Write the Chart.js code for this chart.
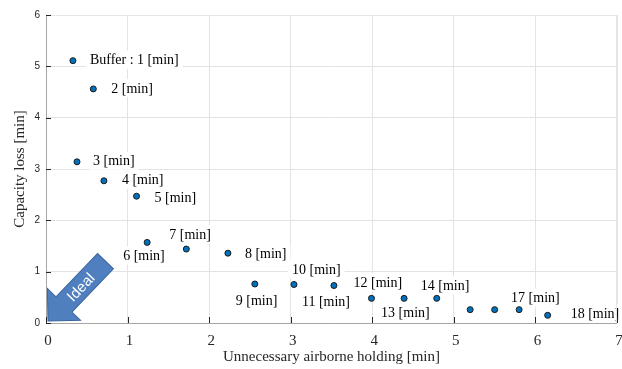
<!DOCTYPE html>
<html>
<head>
<meta charset="utf-8">
<script src="https://cdn.jsdelivr.net/npm/chart.js@4.4.1/dist/chart.umd.min.js"></script>
<style>
  html, body { margin: 0; padding: 0; background: #fff; }
  #wrap { width: 622px; height: 369px; position: relative; }
</style>
</head>
<body>
<div id="wrap"><canvas id="chart"></canvas></div>
<script>
// buffer values 1..18 min
const holdingMin = [0.33, 0.58, 0.38, 0.71, 1.11, 1.24, 1.72, 2.23, 2.56, 3.04, 3.53, 3.99, 4.39, 4.79, 5.20, 5.50, 5.80, 6.15];
const capacityLossMin = [5.11, 4.56, 3.14, 2.77, 2.47, 1.57, 1.44, 1.36, 0.76, 0.75, 0.73, 0.48, 0.48, 0.48, 0.26, 0.26, 0.26, 0.15];
const labelTexts = [
  "Buffer : 1 [min]", "2 [min]", "3 [min]", "4 [min]", "5 [min]", "6 [min]",
  "7 [min]", "8 [min]", "9 [min]", "10 [min]", "11 [min]", "12 [min]",
  "13 [min]", "14 [min]", "", "", "17 [min]", "18 [min]",
];
const xTicks = [0, 1, 2, 3, 4, 5, 6, 7];
const yTicks = [0, 1, 2, 3, 4, 5, 6];

// label placement relative to its point, px (left edge, vertical centre)
const labelOffsets = [
  [17, -1], [18, -1], [16, -1], [18, -1], [18, 1], [-24, 13],
  [-17, -15], [17, 0], [-19, 16], [-2, -15], [-32, 16], [-18, -16],
  [-23, 14], [-16, -13], [0, 0], [0, 0], [-8, -12], [23, -2],
];

const SERIF = "'Liberation Serif', 'Times New Roman', serif";
const SANS = "'Liberation Sans', Arial, sans-serif";

const pointLabels = {
  id: "pointLabels",
  beforeDatasetsDraw(chart) {
    const { ctx } = chart;
    const meta = chart.getDatasetMeta(0);
    ctx.save();
    ctx.font = `14px ${SERIF}`;
    ctx.textBaseline = "middle";
    meta.data.forEach((pt, i) => {
      const text = labelTexts[i];
      if (!text) return;
      const [dx, dy] = labelOffsets[i];
      const x = pt.x + dx;
      const y = pt.y + dy;
      const w = ctx.measureText(text).width;
      ctx.fillStyle = "#fff";
      ctx.fillRect(x - 4, y - 9, w + 8, 18);
      ctx.fillStyle = "#000";
      ctx.fillText(text, x, y + 1);
    });
    ctx.restore();
  },
};

const axesBox = {
  id: "axesBox",
  afterDraw(chart) {
    const { ctx, chartArea: a } = chart;
    const xs = chart.scales.x;
    const ys = chart.scales.y;
    ctx.save();
    ctx.lineWidth = 1;
    // top / right
    ctx.strokeStyle = "#e6e6e6";
    ctx.beginPath();
    ctx.moveTo(a.left, a.top + 0.5);
    ctx.lineTo(a.right - 0.5, a.top + 0.5);
    ctx.lineTo(a.right - 0.5, a.bottom);
    ctx.stroke();
    // left / bottom axis
    ctx.strokeStyle = "#a6a6a6";
    ctx.beginPath();
    ctx.moveTo(a.left + 0.5, a.top);
    ctx.lineTo(a.left + 0.5, a.bottom + 0.5);
    ctx.lineTo(a.right, a.bottom + 0.5);
    ctx.stroke();
    // inward ticks
    ctx.strokeStyle = "#262626";
    ctx.beginPath();
    xTicks.forEach((v) => {
      const px = Math.round(xs.getPixelForValue(v)) + 0.5;
      ctx.moveTo(px, a.bottom);
      ctx.lineTo(px, a.bottom - 6);
    });
    yTicks.forEach((v) => {
      const py = Math.round(ys.getPixelForValue(v)) + 0.5;
      ctx.moveTo(a.left, py);
      ctx.lineTo(a.left + 5, py);
    });
    ctx.stroke();
    ctx.restore();
  },
};

const idealArrow = {
  id: "idealArrow",
  afterDatasetsDraw(chart) {
    const { ctx } = chart;
    const tipX = chart.scales.x.getPixelForValue(0) + 2;
    const tipY = chart.scales.y.getPixelForValue(0) - 2;
    ctx.save();
    ctx.translate(tipX, tipY);
    ctx.rotate(-Math.PI / 4 - 0.02);
    // head at local origin, shaft along +x (up-right on screen)
    const len = 83, head = 23, shaftHalf = 11, headHalf = 23;
    ctx.beginPath();
    ctx.moveTo(0, 0);
    ctx.lineTo(head, -headHalf);
    ctx.lineTo(head, -shaftHalf);
    ctx.lineTo(len, -shaftHalf);
    ctx.lineTo(len, shaftHalf);
    ctx.lineTo(head, shaftHalf);
    ctx.lineTo(head, headHalf);
    ctx.closePath();
    ctx.fillStyle = "#4f7fbf";
    ctx.fill();
    ctx.strokeStyle = "#3a659c";
    ctx.lineWidth = 1;
    ctx.stroke();
    ctx.fillStyle = "#fff";
    ctx.font = `15px ${SANS}`;
    ctx.textAlign = "center";
    ctx.textBaseline = "middle";
    ctx.fillText("Ideal", 47, 1);
    ctx.restore();
  },
};

const points = holdingMin.map((x, i) => ({ x, y: capacityLossMin[i] }));

new Chart(document.querySelector("#chart"), {
  type: "scatter",
  data: {
    datasets: [
      {
        data: points,
        pointRadius: 3,
        pointBackgroundColor: "#0072bd",
        pointBorderColor: "#1a1a1a",
        pointBorderWidth: 1,
      },
    ],
  },
  options: {
    responsive: true,
    maintainAspectRatio: false,
    animation: false,
    layout: { padding: { left: 0, right: 2, top: 15, bottom: 0 } },
    plugins: {
      legend: { display: false },
      tooltip: { enabled: false },
    },
    scales: {
      x: {
        type: "linear",
        min: 0,
        max: 7,
        afterBuildTicks: (scale) => {
          scale.ticks = xTicks.map((value) => ({ value }));
        },
        afterFit: (scale) => {
          scale.height = 46;
          scale.paddingLeft = 0;
          scale.paddingRight = 0;
        },
        grid: { color: "#e3e3e3", drawTicks: false },
        border: { display: false },
        ticks: {
          padding: 9,
          labelOffset: 2,
          color: "#262626",
          font: { family: SERIF, size: 15 },
        },
        title: {
          display: true,
          text: "Unnecessary airborne holding [min]",
          color: "#262626",
          font: { family: SERIF, size: 15 },
          padding: { top: 0, bottom: 3 },
        },
      },
      y: {
        type: "linear",
        min: 0,
        max: 6,
        afterBuildTicks: (scale) => {
          scale.ticks = yTicks.map((value) => ({ value }));
        },
        afterFit: (scale) => {
          scale.width = 46;
          scale.paddingTop = 0;
          scale.paddingBottom = 0;
        },
        grid: { color: "#e3e3e3", drawTicks: false },
        border: { display: false },
        ticks: {
          padding: 6,
          color: "#262626",
          font: { family: SANS, size: 10 },
        },
        title: {
          display: true,
          text: "Capacity loss [min]",
          color: "#262626",
          font: { family: SERIF, size: 15 },
          padding: { top: 11, bottom: 0 },
        },
      },
    },
  },
  plugins: [pointLabels, axesBox, idealArrow],
});
</script>
</body>
</html>
